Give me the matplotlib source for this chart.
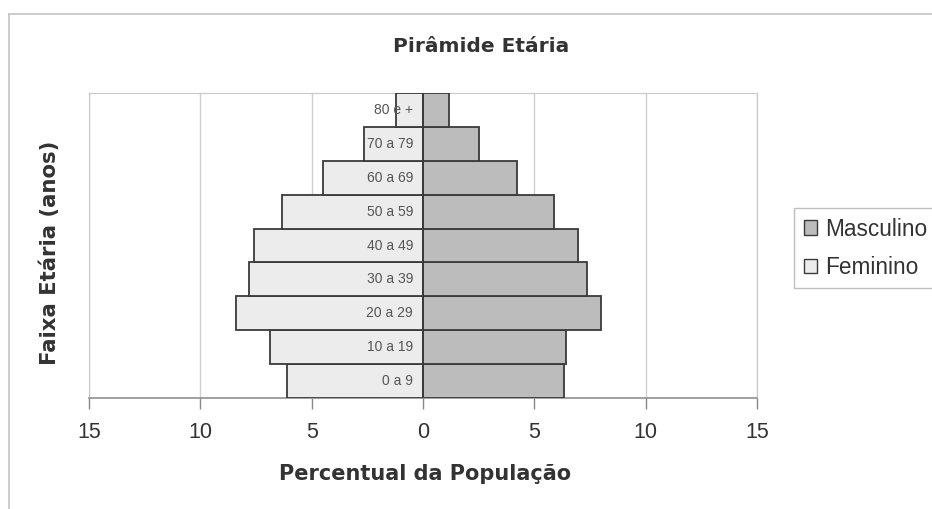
import numpy as np
import matplotlib.pyplot as plt
from matplotlib.lines import Line2D
from matplotlib.patches import Patch
from matplotlib.ticker import FuncFormatter

plt.rcParams["font.family"] = ["Liberation Sans", "DejaVu Sans"]

faixas = ["0 a 9", "10 a 19", "20 a 29", "30 a 39", "40 a 49",
          "50 a 59", "60 a 69", "70 a 79", "80 e +"]
masculino = [6.35, 6.42, 8.0, 7.37, 6.95, 5.88, 4.2, 2.52, 1.19]
feminino = [6.12, 6.85, 8.38, 7.8, 7.6, 6.35, 4.5, 2.67, 1.22]

W, H = 932, 509
fig = plt.figure(figsize=(W / 100, H / 100), dpi=100)
fig.patch.set_facecolor("white")

# outer chart frame (only top and left visible in the scan)
fig.add_artist(Line2D([9 / W, 1], [1 - 14 / H, 1 - 14 / H], color="#c4c4c4", lw=1.2))
fig.add_artist(Line2D([9 / W, 9 / W], [0, 1 - 14 / H], color="#c4c4c4", lw=1.2))

ax = fig.add_axes([89 / W, 1 - 398 / H, (757 - 89) / W, (398 - 93) / H])

y = np.arange(len(faixas))
ax.barh(y, -np.array(feminino), height=1.0, color="#ececec",
        edgecolor="#3a3a3a", linewidth=1.3, zorder=3)
ax.barh(y, masculino, height=1.0, color="#bcbcbc",
        edgecolor="#3a3a3a", linewidth=1.3, zorder=3)
ax.axvline(0, color="#3a3a3a", lw=1.3, zorder=4)

for i, lab in enumerate(faixas):
    ax.text(-0.45, i, lab, ha="right", va="center", fontsize=10,
            color="#555555", zorder=5)

ax.set_xlim(-15, 15)
ax.set_ylim(-0.5, len(faixas) - 0.5)
ax.set_xticks(np.arange(-15, 16, 5))
ax.xaxis.set_major_formatter(FuncFormatter(lambda v, p: f"{abs(v):g}"))
ax.set_yticks([])
ax.tick_params(axis="x", length=8, width=1, color="#888888", pad=9,
               labelsize=15.5, labelcolor="#333333")
ax.grid(axis="x", color="#d0d0d0", lw=1, zorder=0)

for s in ["top", "left", "right"]:
    ax.spines[s].set_color("#c8c8c8")
ax.spines["bottom"].set_color("#909090")
ax.spines["bottom"].set_linewidth(1.2)

bold = dict(family="DejaVu Sans", fontweight="bold", color="#333333")
fig.text(481 / W, 1 - 46 / H, "Pirâmide Etária", ha="center", va="center",
         fontsize=14.5, **bold)
fig.text(425 / W, 1 - 474 / H, "Percentual da População", ha="center",
         va="center", fontsize=15, **bold)
fig.text(50 / W, 1 - 253 / H, "Faixa Etária (anos)", ha="center",
         va="center", rotation=90, fontsize=15.3, **bold)

handles = [Patch(facecolor="#bcbcbc", edgecolor="#3a3a3a", label="Masculino"),
           Patch(facecolor="#ececec", edgecolor="#3a3a3a", label="Feminino")]
leg = fig.legend(handles=handles, loc="upper left",
                 bbox_to_anchor=(794 / W, 1 - 208 / H), fontsize=16.3,
                 frameon=True, fancybox=False, edgecolor="#b0b0b0",
                 handlelength=0.6, handleheight=0.6, handletextpad=0.35,
                 borderpad=0.42, labelspacing=0.68, borderaxespad=0)
leg.get_frame().set_linewidth(1.0)
for t in leg.get_texts():
    t.set_color("#333333")

fig.savefig("out.png", dpi=100)
